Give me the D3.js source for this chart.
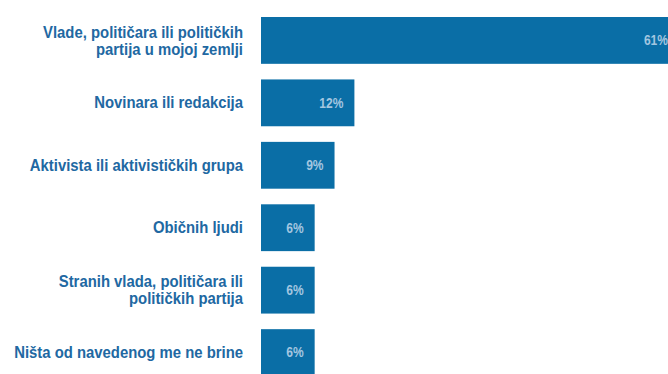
<!DOCTYPE html>
<html>
<head>
<meta charset="utf-8">
<script src="https://cdn.jsdelivr.net/npm/d3@7/dist/d3.min.js"></script>
<style>
  html, body { margin: 0; padding: 0; background: #ffffff; }
  svg { display: block; }
</style>
</head>
<body>
<svg id="chart" width="668" height="374"></svg>
<script>
// Survey answers: whose false or misleading content respondents worry about
const categories = [
  ["Vlade, političara ili političkih", "partija u mojoj zemlji"],
  ["Novinara ili redakcija"],
  ["Aktivista ili aktivističkih grupa"],
  ["Običnih ljudi"],
  ["Stranih vlada, političara ili", "političkih partija"],
  ["Ništa od navedenog me ne brine"]
];
const shares = [61, 12, 9, 6, 6, 6];
const valueLabels = ["61%", "12%", "9%", "6%", "6%", "6%"];

const svg = d3.select("#chart");
const barLeft = 261, labelRight = 243;

const barColor = "#0a6ea6";
const labelColor = "#2168a2";
const valueColor = "#a3c6e0";
const font = "'Liberation Sans', Arial, sans-serif";
const squeeze = 0.93; // condensed look for the category labels

const keys = categories.map((c, i) => i);
const y = d3.scaleBand().domain(keys).range([17, 376]).paddingInner(0.25).paddingOuter(0);
const x = d3.scaleLinear().domain([-2.1, 61]).range([0, 418]);

const rows = svg.append("g").selectAll("g.row")
  .data(keys)
  .join("g")
  .attr("class", "row");

rows.append("rect")
  .attr("x", barLeft)
  .attr("y", i => y(i))
  .attr("width", i => x(shares[i]))
  .attr("height", y.bandwidth())
  .attr("fill", barColor);

// value labels inside the bar end
rows.append("g")
  .attr("transform", i => `translate(${barLeft + x(shares[i]) - 11},${y(i) + y.bandwidth() / 2}) scale(0.86,1)`)
  .append("text")
  .attr("dy", "0.35em")
  .attr("text-anchor", "end")
  .attr("font-family", font)
  .attr("font-weight", "bold")
  .attr("font-size", 14)
  .attr("fill", valueColor)
  .text(i => valueLabels[i]);

// category labels, right aligned before the bars
const lineGap = 17;
rows.append("g")
  .attr("transform", i => `translate(${labelRight},${y(i) + y.bandwidth() / 2}) scale(${squeeze},1)`)
  .append("text")
  .attr("text-anchor", "end")
  .attr("font-family", font)
  .attr("font-weight", "bold")
  .attr("font-size", 16)
  .attr("fill", labelColor)
  .each(function(i) {
    const lines = categories[i];
    const t = d3.select(this);
    lines.forEach((ln, k) => {
      t.append("tspan")
        .attr("x", 0)
        .attr("y", (k - (lines.length - 1) / 2) * lineGap)
        .attr("dy", "0.35em")
        .text(ln);
    });
  });
</script>
</body>
</html>
